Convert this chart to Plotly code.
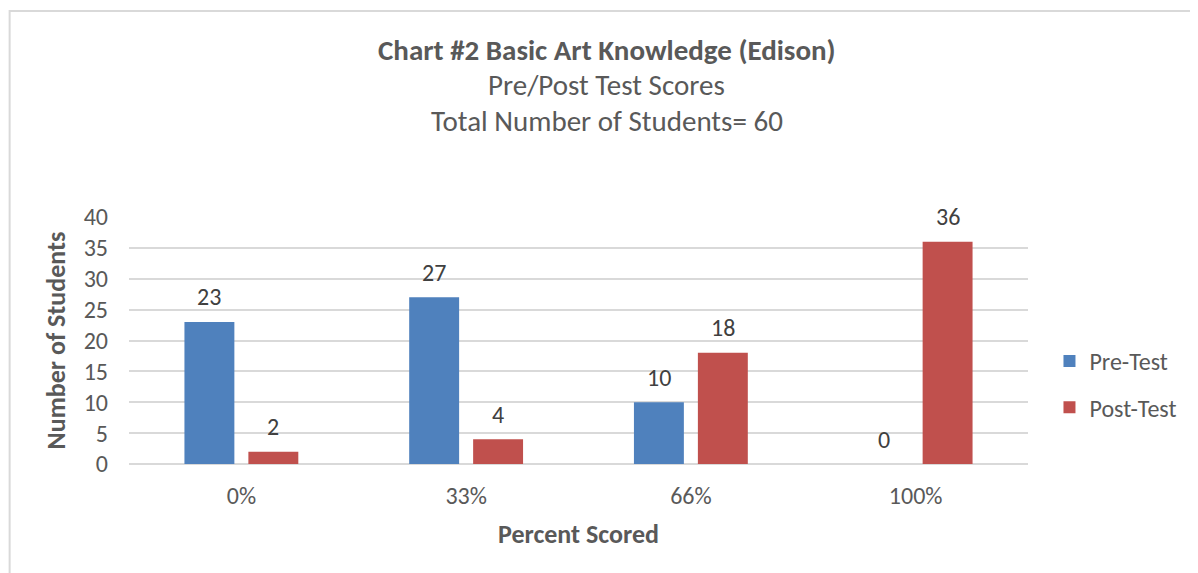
import plotly.graph_objects as go

categories = ["0%", "33%", "66%", "100%"]
pre_test = [23, 27, 10, 0]
post_test = [2, 4, 18, 36]
series_names = ["Pre-Test", "Post-Test"]
y_ticks = [0, 5, 10, 15, 20, 25, 30, 35, 40]
title_lines = ["<b>Chart #2 Basic Art Knowledge (Edison)</b>",
               "Pre/Post Test Scores",
               "Total Number of Students= 60"]

FONT = "Carlito, Lato, sans-serif"
BLUE = "#4F81BD"
RED = "#C0504D"
TXT = "#595959"
LBL = "#404040"

W, H = 1190, 565
L, R, T, B = 120.5, 169.5, 209, 109
PW, PH = W - L - R, H - T - B


def px_x(x):
    return (x - L) / PW


def px_y(y):
    return (H - B - y) / PH


fig = go.Figure()
for name, vals, col, grp in [(series_names[0], pre_test, BLUE, "a"),
                             (series_names[1], post_test, RED, "b")]:
    fig.add_trace(go.Bar(
        x=categories, y=vals, name=name, legendgroup=grp,
        marker=dict(color=col, line=dict(width=0)),
    ))

# data labels
for vals, shift in [(pre_test, -32), (post_test, 32)]:
    for c, v in zip(categories, vals):
        fig.add_annotation(x=c, y=v, xref="x", yref="y", text=str(v), showarrow=False,
                           xshift=shift, yshift=25, yanchor="middle",
                           font=dict(family=FONT, size=24, color=LBL))

fig.update_layout(
    width=W, height=H,
    barmode="group", bargap=0.431, bargroupgap=0.219,
    paper_bgcolor="white", plot_bgcolor="white",
    margin=dict(l=L, r=R, t=T, b=B, autoexpand=False),
    font=dict(family=FONT, color=TXT),
    showlegend=True,
    legend=dict(x=px_x(1042), y=px_y(376.5), xanchor="left", yanchor="middle",
                font=dict(family=FONT, size=24, color=TXT),
                tracegroupgap=12, traceorder="grouped",
                bgcolor="rgba(0,0,0,0)"),
)
fig.update_xaxes(
    type="category", showgrid=False, showline=False, zeroline=False,
    tickfont=dict(family=FONT, size=24, color=TXT), ticks="", ticklabelstandoff=15,
    title=dict(text="<b>Percent Scored</b>", font=dict(family=FONT, size=26, color=TXT), standoff=15),
)
fig.update_yaxes(
    range=[0, 40], tickvals=y_ticks, showgrid=True, gridcolor="#D9D9D9", gridwidth=1.5,
    zeroline=True, zerolinecolor="#D9D9D9", zerolinewidth=1.5, showline=False,
    tickfont=dict(family=FONT, size=24, color=TXT), ticks="", ticklabelstandoff=20,
    title=dict(text="<b>Number of Students</b>", font=dict(family=FONT, size=26, color=TXT), standoff=10),
)

for t, ypix in zip(title_lines, [42, 77, 113]):
    fig.add_annotation(text=t, x=px_x(599), y=px_y(ypix), xref="paper", yref="paper",
                       xanchor="center", yanchor="middle", showarrow=False,
                       font=dict(family=FONT, size=29, color=TXT))

# chart frame border
fig.add_shape(type="rect", xref="paper", yref="paper",
              x0=px_x(1), x1=px_x(1300), y0=px_y(3), y1=px_y(700),
              line=dict(width=2, color="#D9D9D9"), layer="below")

fig.write_html("out.html")
